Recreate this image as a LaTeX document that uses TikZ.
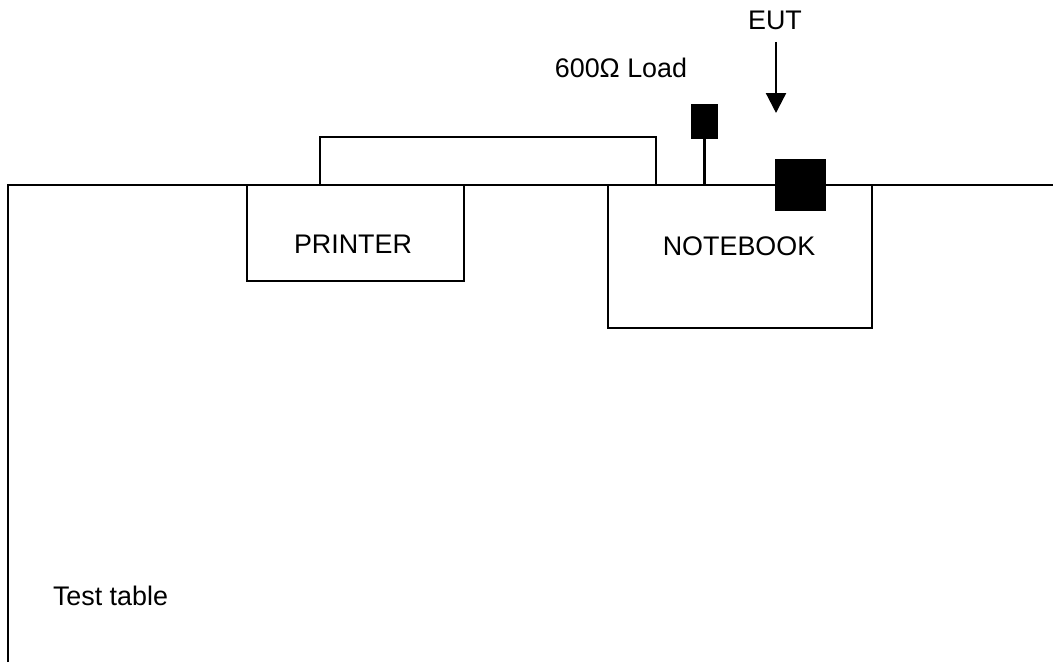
\documentclass[tikz,border=0pt]{standalone}
\usepackage{fontspec}
\setmainfont{Liberation Sans}
\usetikzlibrary{arrows.meta}
\begin{document}
\begin{tikzpicture}[x=0.02cm,y=-0.02cm,
  line width=1.1pt,
  every node/.style={font=\fontsize{15.3}{18}\selectfont, inner sep=0pt, outer sep=0pt},
  box/.style={draw, fill=white, line width=1.1pt},
  blk/.style={draw, fill=black, line width=1.1pt},
  lbl/.style={anchor=base}]
\useasboundingbox (0,0) rectangle (1053,662);
% table
\coordinate (tl) at (8,185);
\coordinate (tr) at (1053,185);
\coordinate (bl) at (8,662);
\draw (bl) -- (tl) -- (tr);
% printer top piece
\coordinate (p1) at (320,185);
\coordinate (p2) at (320,137);
\coordinate (p3) at (656,137);
\coordinate (p4) at (656,185);
\draw (p1) -- (p2) -- (p3) -- (p4);
% printer
\node[box, minimum width=217*0.02cm, minimum height=96*0.02cm] (printer) at (355.5,233) {};
\node[lbl] (printertxt) at (353,253) {PRINTER};
% notebook
\node[box, minimum width=264*0.02cm, minimum height=143*0.02cm] (notebook) at (740,256.5) {};
\node[lbl] (notebooktxt) at (739,255) {NOTEBOOK};
% load
\node[blk, minimum width=25*0.02cm, minimum height=33*0.02cm] (load) at (704.5,121.5) {};
\coordinate (loadbase) at (704.5,185);
\draw[line width=1.3pt] (load.south) -- (loadbase);
\node[lbl] (loadtxt) at (621,78) {600Ω Load};
% EUT
\node[blk, minimum width=49*0.02cm, minimum height=50*0.02cm] (eut) at (800.5,185) {};
\node[lbl] (euttxt) at (775,30) {EUT};
\coordinate (as) at (776,42);
\coordinate (ae) at (776,113);
\draw[line width=1.3pt, -{Triangle[width=0.4cm,length=0.4cm]}] (as) -- (ae);
% test table
\node[anchor=base west] (tt) at (53,605) {Test table};
\end{tikzpicture}
\end{document}
